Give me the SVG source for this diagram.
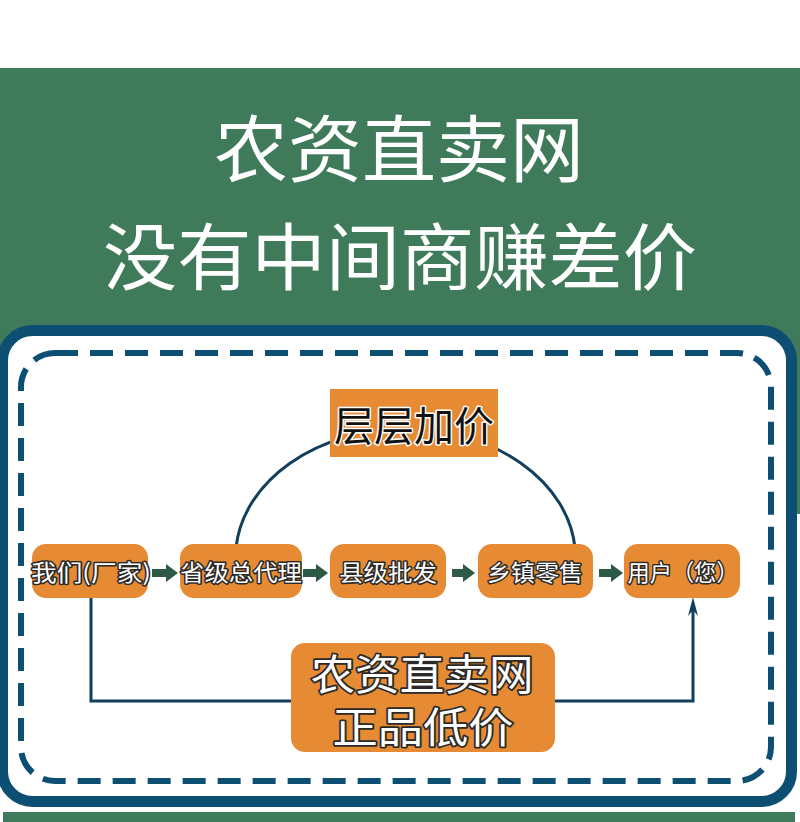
<svg xmlns="http://www.w3.org/2000/svg" width="800" height="822" viewBox="0 0 800 822">
<defs>
<style>
.cjk{font-family:"Noto Sans CJK SC","Noto Sans",sans-serif;}
.title{fill:#ffffff;font-size:73px;text-anchor:middle;}
.node rect{fill:#e68a34;}
.ntext{fill:#ffffff;stroke:#2a2a2a;stroke-width:3;paint-order:stroke;stroke-linejoin:round;font-size:23px;text-anchor:middle;dominant-baseline:central;}
.btext{fill:#ffffff;stroke:#2a2a2a;stroke-width:3.5;paint-order:stroke;stroke-linejoin:round;font-size:42px;text-anchor:middle;dominant-baseline:central;}
.ltext{fill:#111111;stroke:#ffffff;stroke-width:3;paint-order:stroke;stroke-linejoin:round;font-size:41px;text-anchor:middle;dominant-baseline:central;}
.line{fill:none;stroke:#123f5e;stroke-width:3;}
.garrow{fill:#2c5a44;}
.barb{fill:#123f5e;}
</style>
</defs>
<rect x="0" y="0" width="800" height="822" fill="#ffffff"/>
<rect x="0" y="68" width="800" height="446" fill="#3f7a5a"/>
<rect x="3" y="812" width="792" height="10" fill="#3f7a5a"/>
<g id="title">
<text class="cjk title" x="399" y="176" textLength="370" lengthAdjust="spacingAndGlyphs">农资直卖网</text>
<text class="cjk title" x="400" y="284" textLength="594" lengthAdjust="spacingAndGlyphs">没有中间商赚差价</text>
</g>
<g id="frame">
<rect x="2.5" y="330.5" width="789" height="471" rx="30" fill="#ffffff" stroke="#0c4f73" stroke-width="11"/>
<rect x="21" y="353" width="750" height="428" rx="34" fill="none" stroke="#0c4f73" stroke-width="6" stroke-dasharray="23 12"/>
</g>
<g id="connectors">
<path class="line" d="M236,546 L236,548 A170,129 0 0 1 575,548 L575,546"/>
<path class="line" d="M91,598 L91,701 L693,701 L693,606"/>
<path class="barb" d="M693,597 L698,616 L693,610 L688,616 Z"/>
<path class="garrow" d="M152,569 L166,569 L166,564 L178,573 L166,582 L166,577 L152,577 Z"/>
<path class="garrow" d="M303,569 L316,569 L316,564 L328,573 L316,582 L316,577 L303,577 Z"/>
<path class="garrow" d="M452,569 L463,569 L463,564 L475,573 L463,582 L463,577 L452,577 Z"/>
<path class="garrow" d="M599,569 L611,569 L611,564 L623,573 L611,582 L611,577 L599,577 Z"/>
</g>
<g id="n-layer" class="node">
<rect x="330" y="389" width="168" height="68"/>
<text class="cjk ltext" x="414" y="423" textLength="160" lengthAdjust="spacingAndGlyphs">层层加价</text>
</g>
<g id="n1" class="node">
<rect x="32" y="544" width="116" height="54" rx="14"/>
<text class="cjk ntext" x="91" y="571" textLength="120" lengthAdjust="spacingAndGlyphs">我们(厂家)</text>
</g>
<g id="n2" class="node">
<rect x="180" y="544" width="122" height="54" rx="14"/>
<text class="cjk ntext" x="241" y="571" textLength="122" lengthAdjust="spacingAndGlyphs">省级总代理</text>
</g>
<g id="n3" class="node">
<rect x="330" y="544" width="116" height="54" rx="14"/>
<text class="cjk ntext" x="388" y="571" textLength="98" lengthAdjust="spacingAndGlyphs">县级批发</text>
</g>
<g id="n4" class="node">
<rect x="478" y="544" width="115" height="54" rx="14"/>
<text class="cjk ntext" x="535" y="571" textLength="96" lengthAdjust="spacingAndGlyphs">乡镇零售</text>
</g>
<g id="n5" class="node">
<rect x="624" y="544" width="116" height="54" rx="14"/>
<text class="cjk ntext" x="683" y="571" textLength="111" lengthAdjust="spacingAndGlyphs">用户（您）</text>
</g>
<g id="n-direct" class="node">
<rect x="291" y="643" width="264" height="109" rx="14"/>
<text class="cjk btext" x="422" y="671" textLength="223" lengthAdjust="spacingAndGlyphs">农资直卖网</text>
<text class="cjk btext" x="423" y="724" textLength="181" lengthAdjust="spacingAndGlyphs">正品低价</text>
</g>
</svg>
